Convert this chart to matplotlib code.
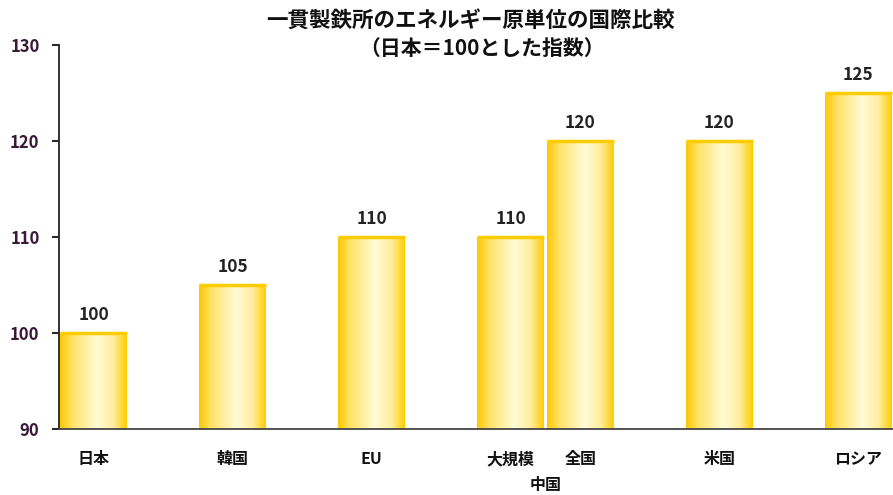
import numpy as np
import matplotlib
matplotlib.use('Agg')
import matplotlib.pyplot as plt
from matplotlib.colors import LinearSegmentedColormap

plt.rcParams['font.family'] = ['Noto Sans CJK JP', 'DejaVu Sans']

# energy intensity index of integrated steelworks (Japan = 100)
labels = ['日本', '韓国', 'EU', '大規模', '全国', '米国', 'ロシア']
values = [100, 105, 110, 110, 120, 120, 125]
positions = [0, 1, 2, 3, 3.5, 4.5, 5.5]
group_label = '中国'
yticks = [90, 100, 110, 120, 130]

bar_w = 0.48
gold = LinearSegmentedColormap.from_list(
    'gold', [(0.0, '#ffc800'), (0.18, '#ffe266'), (0.55, '#fffbd6'),
             (0.8, '#ffeea0'), (1.0, '#ffcc00')])

fig = plt.figure(figsize=(8.93, 4.95), dpi=100)
ax = fig.add_axes([59 / 893, 66 / 495, 834 / 893, 384 / 495])

grad = np.linspace(0, 1, 256).reshape(1, -1)
for x, v in zip(positions, values):
    x0, x1 = x - bar_w / 2, x + bar_w / 2
    rect = plt.Rectangle((x0, 90), bar_w, v - 90, facecolor='none',
                         edgecolor='none')
    ax.add_patch(rect)
    im = ax.imshow(grad, cmap=gold, aspect='auto', extent=(x0, x1, 90, v),
                   zorder=2, interpolation='bilinear')
    im.set_clip_path(rect)
    ax.plot([x0, x1], [v, v], color='#ffcc00', lw=2.5, zorder=3,
            solid_capstyle='butt')
    ax.text(x, v + 0.9, str(v), ha='center', va='bottom', fontsize=12.5,
            fontweight='bold', color='#222222')

ax.set_xlim(-0.25, 5.75)
ax.set_ylim(90, 130)
ax.set_yticks(yticks)
ax.set_yticklabels([str(t) for t in yticks], fontsize=12,
                   fontweight='bold', color='#3a1838')
ax.set_xticks(positions)
ax.set_xticklabels(labels, fontsize=11.5, fontweight='bold', color='#111111')
ax.tick_params(axis='x', length=0, pad=16)
ax.tick_params(axis='y', length=5, width=1.2, pad=9, direction='out')
ax.spines['top'].set_visible(False)
ax.spines['right'].set_visible(False)
ax.spines['left'].set_linewidth(1.3)
ax.spines['bottom'].set_linewidth(1.3)
ax.spines['left'].set_color('#222222')
ax.spines['bottom'].set_color('#444444')

ax.text((positions[3] + positions[4]) / 2, -0.145, group_label,
        transform=ax.get_xaxis_transform(), ha='center', va='center',
        fontsize=11.5, fontweight='bold', color='#111111')

fig.text(470 / 893, 1 - 20 / 495, '一貫製鉄所のエネルギー原単位の国際比較',
         ha='center', va='center', fontsize=15.5, fontweight='bold',
         color='#111111')
fig.text(482 / 893, 1 - 48 / 495, '（日本＝100とした指数）',
         ha='center', va='center', fontsize=15, fontweight='bold',
         color='#111111')

fig.savefig('out.png', dpi=100)
